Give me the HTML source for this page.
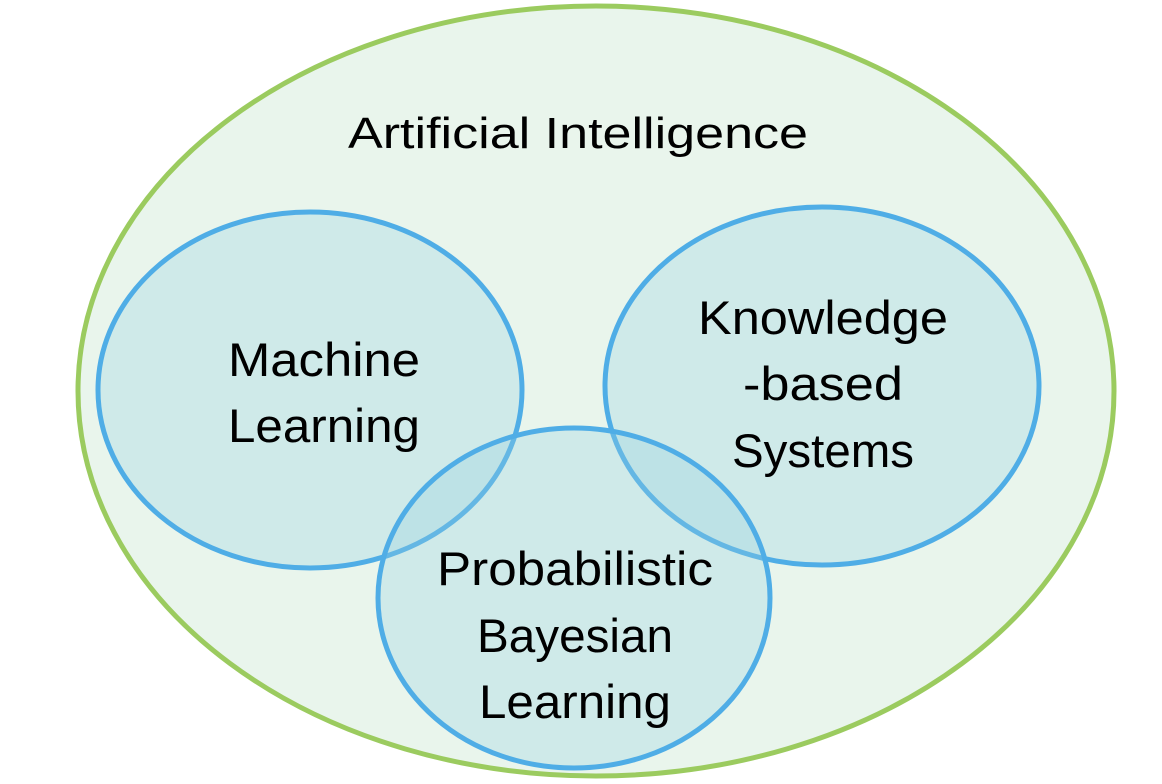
<!DOCTYPE html>
<html><head><meta charset="utf-8"><style>
html,body{margin:0;padding:0;background:#fff;}
svg{display:block;}
text{font-family:"Liberation Sans",sans-serif;fill:#000;}
</style></head><body>
<svg width="1162" height="784" viewBox="0 0 1162 784" xmlns="http://www.w3.org/2000/svg">
<ellipse cx="596" cy="391" rx="518" ry="385" fill="#E9F5EC" stroke="#9BCB5F" stroke-width="5"/>
<ellipse cx="310" cy="390" rx="212" ry="178" fill="rgba(150,210,225,0.3)" stroke="#4FADE6" stroke-width="5"/>
<ellipse cx="822" cy="386" rx="217" ry="179" fill="rgba(150,210,225,0.3)" stroke="#4FADE6" stroke-width="5"/>
<ellipse cx="574" cy="598" rx="196" ry="170" fill="rgba(150,210,225,0.3)" stroke="#4FADE6" stroke-width="5"/>
<g font-size="47" text-anchor="middle" lengthAdjust="spacingAndGlyphs">
<text x="578" y="148" font-size="44" textLength="460" lengthAdjust="spacingAndGlyphs">Artificial Intelligence</text>
<text x="324" y="376" textLength="192" lengthAdjust="spacingAndGlyphs">Machine</text>
<text x="324" y="442" textLength="192" lengthAdjust="spacingAndGlyphs">Learning</text>
<text x="823" y="334" textLength="250" lengthAdjust="spacingAndGlyphs">Knowledge</text>
<text x="823" y="400" textLength="160" lengthAdjust="spacingAndGlyphs">-based</text>
<text x="823" y="467" textLength="182" lengthAdjust="spacingAndGlyphs">Systems</text>
<text x="575" y="585" textLength="276" lengthAdjust="spacingAndGlyphs">Probabilistic</text>
<text x="575" y="652" textLength="196" lengthAdjust="spacingAndGlyphs">Bayesian</text>
<text x="575" y="718" textLength="192" lengthAdjust="spacingAndGlyphs">Learning</text>
</g>
</svg>
</body></html>
